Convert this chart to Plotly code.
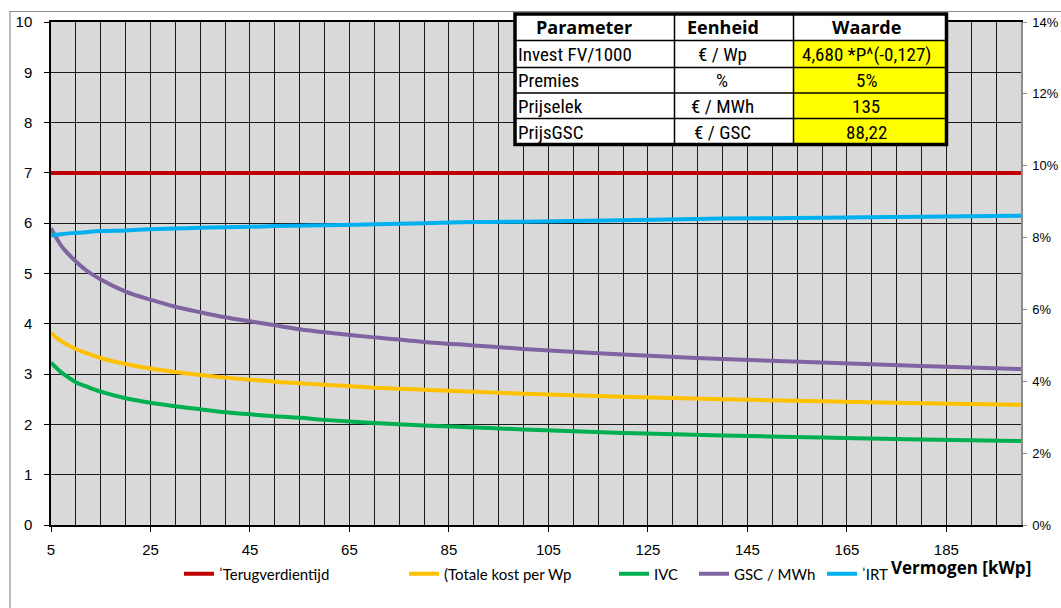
import plotly.graph_objects as go

# ---------------- data ----------------
vermogen = [5, 6, 7, 8, 10, 12, 15, 20, 25, 30, 35, 40, 45, 50, 55, 60, 70, 80, 90, 100, 120, 140, 160, 180, 200]

terugverdientijd = [7.0] * len(vermogen)
totale_kost = [3.82, 3.73, 3.66, 3.60, 3.50, 3.42, 3.32, 3.20, 3.11, 3.04, 2.98, 2.93, 2.89, 2.85, 2.82,
               2.79, 2.73, 2.69, 2.65, 2.61, 2.55, 2.50, 2.46, 2.42, 2.39]
ivc = [3.23, 3.13, 3.04, 2.97, 2.84, 2.76, 2.65, 2.52, 2.43, 2.36, 2.30, 2.24, 2.20, 2.16, 2.13,
       2.09, 2.03, 1.98, 1.94, 1.90, 1.83, 1.78, 1.74, 1.70, 1.67]
gsc_mwh = [5.90, 5.72, 5.56, 5.44, 5.24, 5.07, 4.88, 4.64, 4.48, 4.34, 4.23, 4.13, 4.05, 3.97, 3.89,
           3.83, 3.73, 3.64, 3.57, 3.50, 3.39, 3.30, 3.23, 3.16, 3.10]
irt_pct = [8.06, 8.08, 8.09, 8.11, 8.13, 8.15, 8.18, 8.20, 8.23, 8.25, 8.27, 8.29, 8.30, 8.32, 8.33,
           8.34, 8.37, 8.40, 8.43, 8.44, 8.48, 8.53, 8.55, 8.58, 8.61]

series_names = ["ˈTerugverdientijd", "(Totale kost per Wp", "IVC", "GSC / MWh", "ˈIRT"]
x_ticks = [5, 25, 45, 65, 85, 105, 125, 145, 165, 185]
y_ticks = list(range(0, 11))
y2_ticks = [0, 2, 4, 6, 8, 10, 12, 14]

table_header = ["Parameter", "Eenheid", "Waarde"]
table_param = ["Invest FV/1000", "Premies", "Prijselek", "PrijsGSC"]
table_unit = ["€ / Wp", "%", "€ / MWh", "€ / GSC"]
table_value = ["4,680 *P^(-0,127)", "5%", "135", "88,22"]

# ---------------- layout geometry helpers ----------------
W, H = 1061, 608
ML, MR, MT, MB = 51, 40, 22, 83
PW, PH = W - ML - MR, H - MT - MB


def px(xp):
    return (xp - ML) / PW


def py(yp):
    return (H - MB - yp) / PH


colors = ["#c00000", "#ffc000", "#00b050", "#8064a2", "#00b0f0"]
legend_x = [179, 404, 614, 694, 822]

fig = go.Figure()
ys = [terugverdientijd, totale_kost, ivc, gsc_mwh]
for i in range(4):
    fig.add_trace(go.Scatter(
        x=vermogen, y=ys[i], mode="lines", name=series_names[i], showlegend=True,
        line=dict(color=colors[i], width=4, shape="spline"),
        legend="legend" if i == 0 else f"legend{i+1}",
    ))
fig.add_trace(go.Scatter(
    x=vermogen, y=irt_pct, mode="lines", name=series_names[4], yaxis="y2", showlegend=True,
    line=dict(color=colors[4], width=4, shape="spline"), legend="legend5",
))

legend_common = dict(orientation="h", xref="container", yref="container", xanchor="left",
                     yanchor="middle", y=1 - 574 / H, bgcolor="rgba(0,0,0,0)",
                     font=dict(family="Lato", size=15, color="black"), itemwidth=30,
                     borderwidth=0)
legends = {}
for i in range(5):
    key = "legend" if i == 0 else f"legend{i+1}"
    legends[key] = dict(legend_common, x=legend_x[i] / W)

shapes = []
annotations = []

# outer chart border
shapes.append(dict(type="rect", xref="paper", yref="paper", x0=px(10), x1=px(1070),
                   y0=py(11.5), y1=py(620), line=dict(color="#8c8c8c", width=1.2),
                   fillcolor="rgba(0,0,0,0)", layer="below"))

# parameter table
tl, tr, tt, tb = 515, 946.5, 14, 144.5
col_x = [tl, 674.5, 793.5, tr]
row_y = [tt, 40.5, 67.5, 93, 118.5, tb]
shapes.append(dict(type="rect", xref="paper", yref="paper", x0=px(tl), x1=px(tr),
                   y0=py(tb), y1=py(tt), fillcolor="white", line=dict(width=0), layer="above"))
shapes.append(dict(type="rect", xref="paper", yref="paper", x0=px(col_x[2]), x1=px(tr),
                   y0=py(tb), y1=py(row_y[1]), fillcolor="#ffff00", line=dict(width=0), layer="above"))
for yy in row_y[1:-1]:
    shapes.append(dict(type="line", xref="paper", yref="paper", x0=px(tl), x1=px(tr),
                       y0=py(yy), y1=py(yy), line=dict(color="black", width=1.5), layer="above"))
for xx in col_x[1:-1]:
    shapes.append(dict(type="line", xref="paper", yref="paper", x0=px(xx), x1=px(xx),
                       y0=py(tt), y1=py(tb), line=dict(color="black", width=1.5), layer="above"))
shapes.append(dict(type="rect", xref="paper", yref="paper", x0=px(tl), x1=px(tr),
                   y0=py(tb), y1=py(tt), fillcolor="rgba(0,0,0,0)",
                   line=dict(color="black", width=3.5), layer="above"))

header_cx = [584, 723, 866]
for txt, cx in zip(table_header, header_cx):
    annotations.append(dict(text=f"<b>{txt}</b>", x=px(cx), y=py(27), xref="paper", yref="paper",
                            showarrow=False, xanchor="center", yanchor="middle",
                            font=dict(family="Open Sans", size=18, color="black")))
body_font = dict(family="Liberation Sans Narrow, Arial Narrow, Roboto Condensed, Liberation Sans",
                 size=19, color="black")
for r in range(4):
    cy = (row_y[r + 1] + row_y[r + 2]) / 2 + 0.5
    annotations.append(dict(text=table_param[r], x=px(516), y=py(cy), xref="paper", yref="paper",
                            showarrow=False, xanchor="left", yanchor="middle", font=body_font))
    annotations.append(dict(text=table_unit[r], x=px(722), y=py(cy), xref="paper", yref="paper",
                            showarrow=False, xanchor="center", yanchor="middle", font=body_font))
    annotations.append(dict(text=table_value[r], x=px(866), y=py(cy), xref="paper", yref="paper",
                            showarrow=False, xanchor="center", yanchor="middle", font=body_font))

# x axis title
annotations.append(dict(text="<b>Vermogen [kWp]</b>", x=px(1033), y=py(567), xref="paper", yref="paper",
                        showarrow=False, xanchor="right", yanchor="middle",
                        font=dict(family="Open Sans", size=17, color="black")))

tickfont = dict(family="Liberation Sans, Arial", size=15, color="black")
fig.update_layout(
    width=W, height=H,
    margin=dict(l=ML, r=MR, t=MT, b=MB, pad=0, autoexpand=False),
    paper_bgcolor="white", plot_bgcolor="#d9d9d9",
    xaxis=dict(range=[5, 200], tickvals=x_ticks, ticktext=[str(v) for v in x_ticks],
               showgrid=True, gridcolor="#1a1a1a", gridwidth=1,
               minor=dict(tick0=5, dtick=5, showgrid=True, gridcolor="#1a1a1a", gridwidth=1),
               showline=True, linecolor="black", linewidth=1.5, mirror=True,
               ticks="outside", ticklen=5, tickcolor="black", tickfont=tickfont,
               ticklabelstandoff=5, zeroline=False, automargin=False),
    yaxis=dict(range=[0, 10], tickvals=y_ticks, showgrid=True, gridcolor="#1a1a1a", gridwidth=1,
               showline=True, linecolor="black", linewidth=1.5, ticks="outside", ticklen=5,
               tickcolor="black", tickfont=tickfont, ticklabelstandoff=9, zeroline=False,
               automargin=False),
    yaxis2=dict(range=[0, 14], tickvals=y2_ticks, ticktext=[f"{v}%" for v in y2_ticks],
                overlaying="y", side="right",
                showgrid=False, showline=True, linecolor="#8c8c8c", linewidth=1.5,
                ticks="outside", ticklen=4, tickcolor="#8c8c8c",
                tickfont=dict(family="Liberation Sans, Arial", size=13, color="black"),
                ticklabelstandoff=3, zeroline=False, automargin=False),
    shapes=shapes, annotations=annotations,
    **legends,
)

fig.write_html("out.html")
